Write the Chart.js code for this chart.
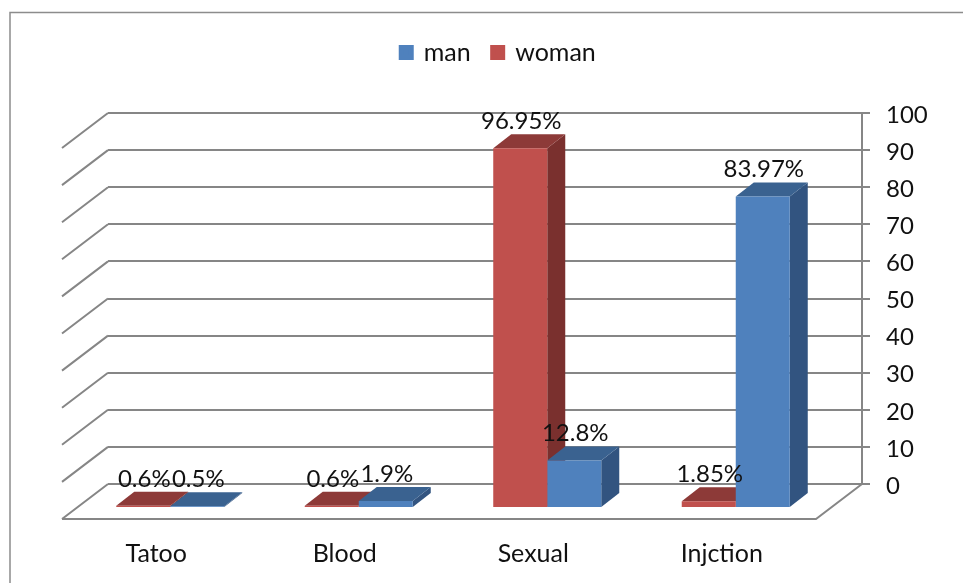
<!DOCTYPE html>
<html>
<head>
<meta charset="utf-8">
<script src="https://cdn.jsdelivr.net/npm/chart.js@4"></script>
<style>
body { margin: 0; background: #fff; }
canvas { display: block; }
</style>
</head>
<body>
<canvas id="miGrafico" width="963" height="583"></canvas>
<script>
const categorias = ['Tatoo', 'Blood', 'Sexual', 'Injction'];
const woman = [0.6, 0.6, 96.95, 1.85];
const man = [0.5, 1.9, 12.8, 83.97];
const etiquetasWoman = ['0.6%', '0.6%', '96.95%', '1.85%'];
const etiquetasMan = ['0.5%', '1.9%', '12.8%', '83.97%'];

const GRIS = '#868686';
const FUENTE = 'Lato, Carlito, sans-serif';
// floor depth of the back wall, bar offset on the floor, bar depth
const PISO_X = 46, PISO_Y = 35;
const BARRA_X = -32, BARRA_Y = 24;
const FONDO_X = 18, FONDO_Y = 14;
const caras = [
    { arriba: '#8D3A38', lado: '#7A302E' },
    { arriba: '#3A6290', lado: '#325480' }
];

function poligono(ctx, puntos, color) {
    ctx.fillStyle = color;
    ctx.beginPath();
    puntos.forEach((p, i) => i ? ctx.lineTo(p[0], p[1]) : ctx.moveTo(p[0], p[1]));
    ctx.closePath();
    ctx.fill();
}

const marco = {
    id: 'marco',
    beforeDraw(chart) {
        const ctx = chart.ctx;
        ctx.save();
        ctx.strokeStyle = '#8c8c8c';
        ctx.lineWidth = 1.5;
        ctx.beginPath();
        ctx.moveTo(10, chart.height);
        ctx.lineTo(10, 12.5);
        ctx.lineTo(chart.width, 12.5);
        ctx.stroke();
        ctx.restore();
    }
};

const barras3d = {
    id: 'barras3d',
    beforeDatasetsDraw(chart) {
        const ctx = chart.ctx;
        const area = chart.chartArea;
        const y = chart.scales.y;
        ctx.save();
        // wall diagonals and front edge of the floor
        ctx.strokeStyle = GRIS;
        ctx.lineWidth = 2;
        ctx.beginPath();
        y.ticks.forEach(t => {
            const py = y.getPixelForValue(t.value);
            ctx.moveTo(area.left, py);
            ctx.lineTo(area.left - PISO_X, py + PISO_Y);
        });
        ctx.moveTo(area.left - PISO_X, area.bottom + PISO_Y);
        ctx.lineTo(area.right - PISO_X, area.bottom + PISO_Y);
        ctx.lineTo(area.right, area.bottom);
        ctx.stroke();
        // top and side faces, the fronts come from the library
        chart.data.datasets.forEach((ds, i) => {
            chart.getDatasetMeta(i).data.forEach(el => {
                const x0 = el.x - el.width / 2 + BARRA_X;
                const x1 = el.x + el.width / 2 + BARRA_X;
                const top = el.y + BARRA_Y;
                const base = el.base + BARRA_Y;
                poligono(ctx, [[x1, top], [x1 + FONDO_X, top - FONDO_Y], [x1 + FONDO_X, base - FONDO_Y], [x1, base]], caras[i].lado);
                poligono(ctx, [[x0, top], [x1, top], [x1 + FONDO_X, top - FONDO_Y], [x0 + FONDO_X, top - FONDO_Y]], caras[i].arriba);
            });
        });
        ctx.translate(BARRA_X, BARRA_Y);
    },
    afterDatasetsDraw(chart) {
        const ctx = chart.ctx;
        ctx.restore();
        ctx.save();
        ctx.fillStyle = '#111';
        ctx.font = '24px ' + FUENTE;
        ctx.textAlign = 'center';
        ctx.textBaseline = 'middle';
        [etiquetasWoman, etiquetasMan].forEach((etiquetas, i) => {
            chart.getDatasetMeta(i).data.forEach((el, j) => {
                ctx.fillText(etiquetas[j], el.x + BARRA_X + 1, el.y + BARRA_Y - 27);
            });
        });
        ctx.restore();
    }
};

// the legend sits far above the plot and left of its centre
const espacioLeyenda = {
    id: 'espacioLeyenda',
    beforeLayout(chart) {
        if (chart.legend && !chart.legend.fitCambiado) {
            const fitOriginal = chart.legend.fit;
            chart.legend.fit = function() {
                fitOriginal.call(this);
                this.height += 38;
            };
            chart.legend.fitCambiado = true;
        }
    },
    afterLayout(chart) {
        chart.legend.left -= 37;
        chart.legend.right -= 37;
    }
};

const grafico = new Chart(document.getElementById('miGrafico'), {
    type: 'bar',
    data: {
        labels: categorias,
        datasets: [
            { label: 'woman', data: woman, backgroundColor: '#C0504D', clip: false },
            { label: 'man', data: man, backgroundColor: '#4F81BD', clip: false }
        ]
    },
    options: {
        responsive: false,
        animation: false,
        categoryPercentage: 0.573,
        barPercentage: 1,
        layout: { padding: { left: 108, top: 18, right: 0, bottom: 0 } },
        plugins: {
            tooltip: { enabled: false },
            legend: {
                position: 'top',
                reverse: true,
                labels: {
                    boxWidth: 10,
                    boxHeight: 10,
                    padding: 22,
                    color: '#111',
                    font: { family: FUENTE, size: 25 },
                    generateLabels(chart) {
                        const items = Chart.defaults.plugins.legend.labels.generateLabels(chart);
                        items.forEach(item => {
                            item.strokeStyle = item.fillStyle;
                            item.lineWidth = 5;
                        });
                        return items;
                    }
                }
            }
        },
        scales: {
            x: {
                grid: { display: false },
                border: { display: false },
                afterFit(scale) { scale.height = 99; },
                ticks: {
                    color: '#111',
                    labelOffset: -PISO_X,
                    padding: 47,
                    maxRotation: 0,
                    autoSkip: false,
                    font: { family: FUENTE, size: 25 }
                }
            },
            y: {
                position: 'right',
                min: 0,
                max: 100,
                afterFit(scale) { scale.width = 101; },
                grid: { color: GRIS, lineWidth: 2, tickLength: 8 },
                border: { color: GRIS, width: 2 },
                ticks: {
                    stepSize: 10,
                    color: '#111',
                    padding: 16,
                    labelOffset: 2,
                    font: { family: FUENTE, size: 24 }
                }
            }
        }
    },
    plugins: [marco, barras3d, espacioLeyenda]
});
</script>
</body>
</html>
